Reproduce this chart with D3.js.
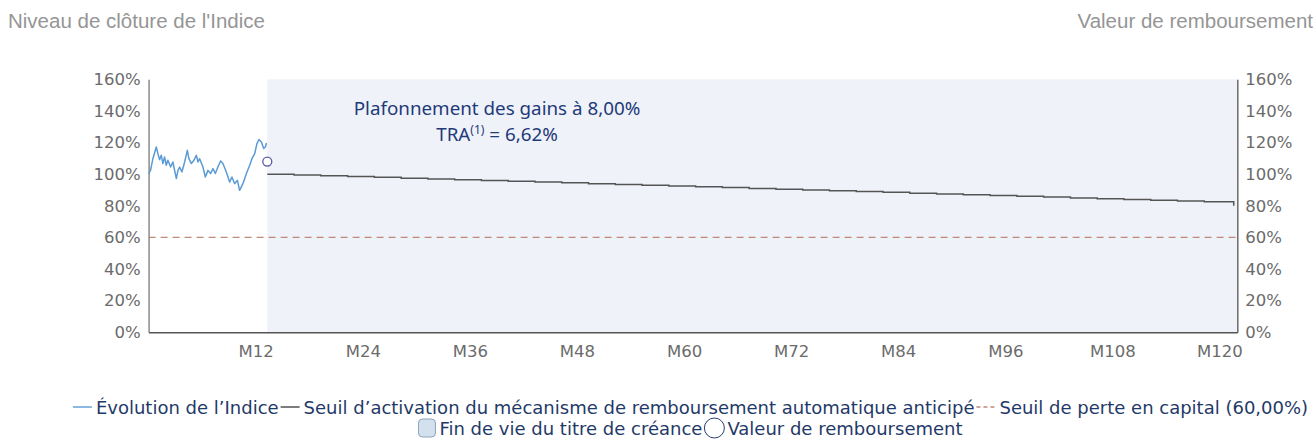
<!DOCTYPE html>
<html><head><meta charset="utf-8">
<script src="https://cdn.jsdelivr.net/npm/d3@7"></script>
<style>body{margin:0;background:#fff}svg{display:block}</style>
</head><body>
<svg id="c" width="1315" height="439"></svg>
<script>
// ---- data ----
const indexMonths = [0,0.22,0.48,0.86,1.04,1.23,1.42,1.60,1.79,1.98,2.16,2.47,2.72,3.11,3.29,3.48,3.73,4.04,4.34,4.52,4.79,5.08,5.35,5.53,5.72,6.09,6.36,6.65,6.95,7.21,7.48,7.77,8.07,8.33,8.71,9.08,9.34,9.64,9.95,10.20,10.57,10.96,11.33,11.58,11.89,12.14,12.37,12.64,12.90,13.09,13.2];
const indexValues = [100.4,102.4,109.8,117.2,113,109.2,112,106.7,110.9,105.6,108.8,104.5,107.7,97.2,102.4,104.5,101.4,107.7,115.1,109.8,106.7,108.8,112,107.7,109.8,104.5,98.2,102.4,100.4,103.5,100.4,104.5,108.3,106.7,101.4,95,98.2,94,96.1,89.8,94,100.4,105.6,109.8,113,119.3,121.9,120.4,116.2,117.2,119.7];
const thresholdMonths = [13.3,16.3,19.3,22.3,25.3,28.3,31.3,34.3,37.3,40.3,43.3,46.3,49.3,52.3,55.3,58.3,61.3,64.3,67.3,70.3,73.3,76.3,79.3,82.3,85.3,88.3,91.3,94.3,97.3,100.3,103.3,106.3,109.3,112.3,115.3,118.3,121.6];
const thresholdValues = [100,99.5,99,98.5,98,97.5,97,96.5,96,95.5,95,94.5,94,93.5,93,92.5,92,91.5,91,90.5,90,89.5,89,88.5,88,87.5,87,86.5,86,85.5,85,84.5,84,83.5,83,82.5,80];
const capitalBarrier = 60;
const redemptionPoint = {month: 13.3, value: 108};
const lifeStart = 13.3;
const xTicks = [12,24,36,48,60,72,84,96,108,120];
const xTickLabels = ["M12","M24","M36","M48","M60","M72","M84","M96","M108","M120"];
const yTicks = [0,20,40,60,80,100,120,140,160];
const leftTitle = "Niveau de clôture de l'Indice";
const rightTitle = "Valeur de remboursement";
const annotLine1 = "Plafonnement des gains à 8,00%";
const legendLabels = ["Évolution de l’Indice","Seuil d’activation du mécanisme de remboursement automatique anticipé","Seuil de perte en capital (60,00%)","Fin de vie du titre de créance","Valeur de remboursement"];

// ---- layout ----
const svg = d3.select("#c");
const L = 148.6, R = 1237.3, T = 79.3, B = 332.3;
const x = d3.scaleLinear().domain([0,122]).range([L,R]);
const y = d3.scaleLinear().domain([0,160]).range([B,T]);
const navy = "#1f3a68";
const tickFont = "DejaVu Sans, sans-serif";

// shading (end of life)
svg.append("rect").attr("x", x(lifeStart)).attr("y", T)
  .attr("width", x(122)-x(lifeStart)).attr("height", B-T).attr("fill","#eff2f8");

// axes
const yl = d3.axisLeft(y).tickValues(yTicks).tickFormat(d=>d+"%").tickSize(0).tickPadding(8);
const yr = d3.axisRight(y).tickValues(yTicks).tickFormat(d=>d+"%").tickSize(0).tickPadding(8);
const xb = d3.axisBottom(x).tickValues(xTicks).tickFormat((d,i)=>xTickLabels[i]).tickSize(0).tickPadding(13);
function style(g, col){
  g.select(".domain").attr("stroke", col).attr("stroke-width",1.5);
  g.selectAll("text").attr("fill","#6b6b6b").style("font-family",tickFont).style("font-size","16.5px");
}
svg.append("g").attr("transform",`translate(${L},0)`).call(yl).call(g=>style(g,"#8a8a8a"));
svg.append("g").attr("transform",`translate(${R},0)`).call(yr).call(g=>style(g,"#6a6a6a"));
svg.append("g").attr("transform",`translate(0,${B})`).call(xb).call(g=>style(g,"#555"));

// barrier
svg.append("line").attr("x1",L).attr("x2",R).attr("y1",y(capitalBarrier)).attr("y2",y(capitalBarrier))
  .attr("stroke","#c08a7a").attr("stroke-width",1.3).attr("stroke-dasharray","7,5");

// threshold step line
const thr = thresholdMonths.map((m,i)=>[m,thresholdValues[i]]);
svg.append("path").datum(thr)
  .attr("d", d3.line().x(d=>x(d[0])).y(d=>y(d[1])).curve(d3.curveStepAfter))
  .attr("fill","none").attr("stroke","#555").attr("stroke-width",1.5);

// index line
const idx = indexMonths.map((m,i)=>[m,indexValues[i]]);
svg.append("path").datum(idx)
  .attr("d", d3.line().x(d=>x(d[0])).y(d=>y(d[1])))
  .attr("fill","none").attr("stroke","#5b9bd5").attr("stroke-width",1.5).attr("stroke-linejoin","round");

// redemption point
svg.append("circle").attr("cx",x(redemptionPoint.month)).attr("cy",y(redemptionPoint.value)).attr("r",4.5)
  .attr("fill","#fff").attr("stroke","#5a5aa0").attr("stroke-width",1.3);

// annotation
const ax = 497;
svg.append("text").attr("x",ax).attr("y",115).attr("text-anchor","middle")
  .style("font-family","Noto Sans, sans-serif").style("font-size","18.8px").attr("fill","#1f3a78").text(annotLine1);
const t2 = svg.append("text").attr("x",ax).attr("y",141).attr("text-anchor","middle")
  .style("font-family","Noto Sans, sans-serif").style("font-size","18.8px").attr("fill","#1f3a78");
t2.append("tspan").text("TRA");
t2.append("tspan").attr("dy",-7).style("font-size","12px").text("(1)");
t2.append("tspan").attr("dy",7).text(" = 6,62%");

// titles
svg.append("text").attr("x",8).attr("y",28).style("font-family","Liberation Sans, Arial, sans-serif")
  .style("font-size","20.5px").attr("fill","#959595").text(leftTitle);
svg.append("text").attr("x",1313).attr("y",28).attr("text-anchor","end").style("font-family","Liberation Sans, Arial, sans-serif")
  .style("font-size","20.5px").attr("fill","#959595").text(rightTitle);

// legend
const lf = 18;
const legendCenter = 690.5;
function legendRow(items, yc){
  const g = svg.append("g");
  let cx = 0;
  items.forEach(it=>{
    if(it.type==="line"){
      g.append("line").attr("x1",cx).attr("x2",cx+19).attr("y1",yc).attr("y2",yc)
        .attr("stroke",it.color).attr("stroke-width",1.4).attr("stroke-dasharray",it.dash||null);
      cx += 23;
    } else if(it.type==="rect"){
      g.append("rect").attr("x",cx).attr("y",yc-9).attr("width",17).attr("height",18).attr("rx",4)
        .attr("fill","#d3e1ef").attr("stroke","#8ea3ba").attr("stroke-width",1);
      cx += 21;
    } else if(it.type==="circle"){
      g.append("circle").attr("cx",cx+10).attr("cy",yc).attr("r",10)
        .attr("fill","#fff").attr("stroke","#2a3d6b").attr("stroke-width",1);
      cx += 23;
    }
    const t = g.append("text").attr("x",cx).attr("y",yc+6.5).style("font-family",tickFont)
      .style("font-size",lf+"px").attr("fill",navy).text(it.label);
    cx += t.node().getComputedTextLength() + 2;
  });
  const w = cx - 2;
  g.attr("transform",`translate(${legendCenter - w/2},0)`);
}
legendRow([
  {type:"line",color:"#5b9bd5",label:legendLabels[0]},
  {type:"line",color:"#444",label:legendLabels[1]},
  {type:"line",color:"#c08a7a",dash:"4,3",label:legendLabels[2]}
], 407);
legendRow([
  {type:"rect",label:legendLabels[3]},
  {type:"circle",label:legendLabels[4]}
], 428);
</script>
</body></html>
